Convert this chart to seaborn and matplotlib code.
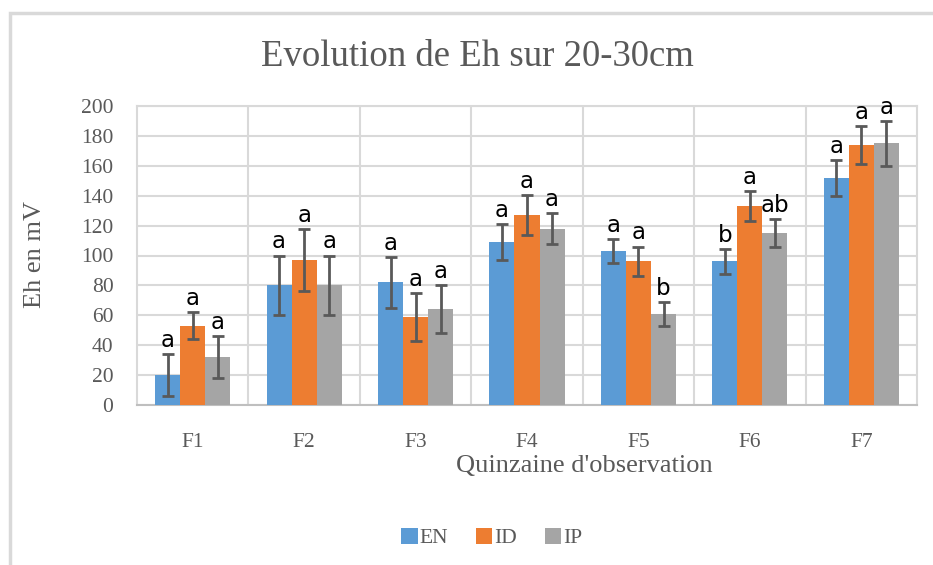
import matplotlib
matplotlib.use("Agg")
import matplotlib.pyplot as plt
from matplotlib.patches import Rectangle
import numpy as np
import pandas as pd
import seaborn as sns

# Data
periods = ["F1", "F2", "F3", "F4", "F5", "F6", "F7"]
treatments = ["EN", "ID", "IP"]

en_mean = [20, 80, 82, 109, 103, 96, 152]
id_mean = [53, 97, 59, 127, 96, 133, 174]
ip_mean = [32, 80, 64, 118, 61, 115, 175]

en_err = [14, 20, 17, 12, 8, 8.5, 12]
id_err = [9, 21, 16, 13.5, 10, 10, 12.5]
ip_err = [14, 20, 16, 10.5, 8, 9.5, 15]

en_letters = ["a", "a", "a", "a", "a", "b", "a"]
id_letters = ["a", "a", "a", "a", "a", "a", "a"]
ip_letters = ["a", "a", "a", "a", "b", "ab", "a"]

COLORS = ["#5b9bd5", "#ed7d31", "#a5a5a5"]
TEXT = "#595959"
GRID = "#d9d9d9"

means = [en_mean, id_mean, ip_mean]
errs = [en_err, id_err, ip_err]
letters = [en_letters, id_letters, ip_letters]

df = pd.DataFrame(
    {
        "period": periods * 3,
        "treatment": [t for t in treatments for _ in periods],
        "eh": en_mean + id_mean + ip_mean,
    }
)

sns.set_theme(style="white")
plt.rcParams["font.family"] = ["Liberation Serif", "DejaVu Serif"]

fig = plt.figure(figsize=(9.33, 5.65), dpi=100)
ax = fig.add_axes([137 / 933, 1 - 405 / 565, 780 / 933, 299 / 565])

sns.barplot(
    data=df, x="period", y="eh", hue="treatment",
    order=periods, hue_order=treatments, palette=COLORS,
    width=0.675, errorbar=None, saturation=1, linewidth=0,
    ax=ax, zorder=3,
)

# error bars + significance letters, one hue at a time
patches = list(ax.patches)[: 3 * len(periods)]
for h in range(3):
    for i in range(len(periods)):
        bar = patches[h * len(periods) + i]
        x = bar.get_x() + bar.get_width() / 2
        y = means[h][i]
        e = errs[h][i]
        ax.errorbar(x, y, yerr=e, color=TEXT, elinewidth=2, capsize=4.5,
                    capthick=2, zorder=4)
        ax.annotate(letters[h][i], (x, y + e), xytext=(0, 1.5),
                    textcoords="offset points", ha="center", va="bottom",
                    fontsize=16.5, color="black", family=["DejaVu Sans"])

ax.set_ylim(0, 200)
ax.set_xlim(-0.5, len(periods) - 0.5)
ax.set_yticks(np.arange(0, 201, 20))
ax.yaxis.grid(True, color=GRID, linewidth=1.5, zorder=0)
for b in np.arange(0.5, len(periods) - 0.5, 1):
    ax.axvline(b, color=GRID, linewidth=1.5, zorder=0)
ax.set_axisbelow(True)
for s in ax.spines.values():
    s.set_color(GRID)
    s.set_linewidth(1.5)
ax.spines["bottom"].set_color("#bfbfbf")

ax.tick_params(axis="both", length=0, labelsize=15.5, colors=TEXT)
ax.tick_params(axis="x", pad=20)
ax.tick_params(axis="y", pad=17)

ax.set_xlabel("")
ax.set_ylabel("")
fig.text(35 / 933, 1 - 255 / 565, "Eh en mV", rotation=90, ha="center",
         va="center", fontsize=19, color=TEXT)
fig.text(584 / 933, 1 - 466 / 565, "Quinzaine d'observation", ha="center",
         va="center", fontsize=19, color=TEXT)
fig.text(477 / 933, 1 - 57 / 565, "Evolution de Eh sur 20-30cm", ha="center",
         va="center", fontsize=26.5, color=TEXT)

leg = ax.legend(
    loc="center", bbox_to_anchor=(492 / 933, 1 - 538 / 565),
    bbox_transform=fig.transFigure, ncol=3, frameon=False,
    fontsize=15.5, handlelength=0.75, handleheight=0.75, handletextpad=0.1,
    columnspacing=1.3, labelcolor=TEXT,
)

# outer chart frame (left and top edges visible)
fig.patches.append(Rectangle((10 / 933, -0.1), 1.2, 1 - 13 / 565 + 0.1,
                             transform=fig.transFigure, fill=False,
                             edgecolor=GRID, linewidth=2.5))

fig.savefig("out.png", dpi=100)
